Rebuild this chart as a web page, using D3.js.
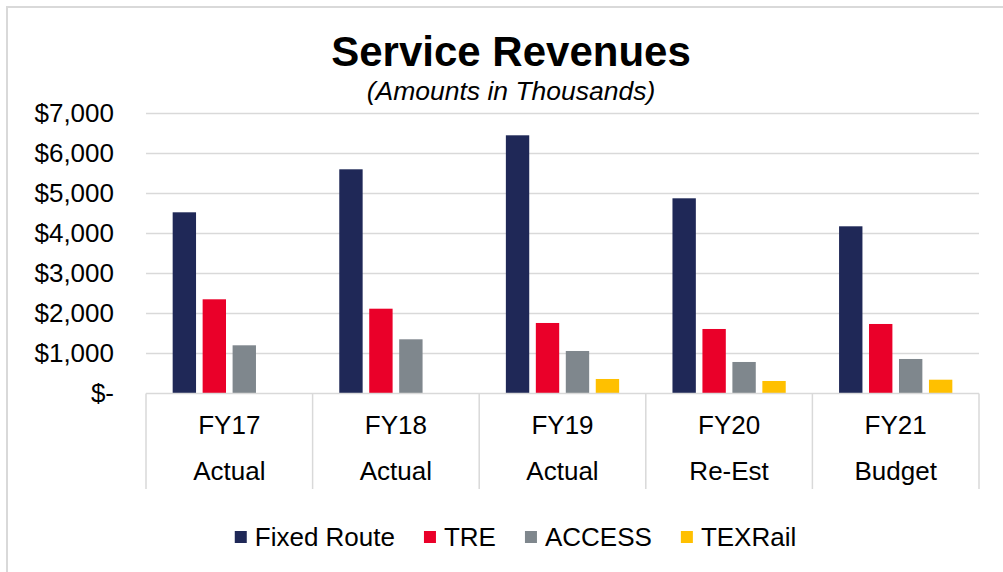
<!DOCTYPE html>
<html>
<head>
<meta charset="utf-8">
<script src="https://cdn.jsdelivr.net/npm/d3@7"></script>
<style>
  body { margin: 0; background: #fff; }
  text { font-family: "Liberation Sans", Arial, sans-serif; fill: #000; }
</style>
</head>
<body>
<script>
// data (thousands of dollars)
const years = ["FY17", "FY18", "FY19", "FY20", "FY21"];
const stages = ["Actual", "Actual", "Actual", "Re-Est", "Budget"];
const seriesNames = ["Fixed Route", "TRE", "ACCESS", "TEXRail"];
const fixedRoute = [4530, 5605, 6455, 4880, 4180];
const tre = [2355, 2120, 1763, 1613, 1738];
const access = [1205, 1355, 1063, 788, 863];
const texrail = [null, null, 363, 313, 345];
const yTicks = [0, 1000, 2000, 3000, 4000, 5000, 6000, 7000];
const colors = ["#1f2857", "#ea0029", "#7f878d", "#ffc000"];

ShowBarChart();

function ShowBarChart() {
    const width = 1003;
    const height = 572;
    const plot = {left: 146, right: 979, top: 113.5, bottom: 393.5};

    var svg = d3.select("body").append("svg")
        .attr('width', width)
        .attr('height', height);

    // outer chart border
    svg.append("rect")
        .attr("x", 7).attr("y", 7)
        .attr("width", 1040).attr("height", 600)
        .attr("fill", "none")
        .attr("stroke", "#d9d9d9")
        .attr("stroke-width", 2);

    var table = years.map((y, i) => ({
        year: y, stage: stages[i],
        values: [fixedRoute[i], tre[i], access[i], texrail[i]]
    }));

    var x0 = d3.scaleBand()
        .domain(years)
        .range([plot.left, plot.right])
        .padding(0);

    var x1 = d3.scaleBand()
        .domain(seriesNames)
        .range([0, x0.bandwidth()])
        .paddingInner(0.22)
        .paddingOuter(0.89);

    var yscale = d3.scaleLinear()
        .domain([0, 7000])
        .range([plot.bottom, plot.top]);

    // gridlines
    svg.append("g").selectAll("line")
        .data(yTicks.filter(d => d > 0))
        .enter()
        .append("line")
        .attr("x1", plot.left).attr("x2", plot.right)
        .attr("y1", d => yscale(d)).attr("y2", d => yscale(d))
        .attr("stroke", "#d9d9d9")
        .attr("stroke-width", 1.5);

    // y axis labels
    var yaxis = d3.axisLeft(yscale)
        .tickValues(yTicks)
        .tickSize(0)
        .tickPadding(0)
        .tickFormat(d => d === 0 ? "$-" : "$" + d3.format(",")(d));

    var gy = svg.append("g")
        .attr("transform", `translate(114, 0)`)
        .call(yaxis);
    gy.select(".domain").remove();
    gy.selectAll("text")
        .attr("font-size", 26)
        .attr("font-family", "Liberation Sans, Arial, sans-serif")
        .attr("fill", "#000");

    // bars
    var groups = svg.append("g").selectAll("g")
        .data(table)
        .enter()
        .append("g")
        .attr("transform", d => `translate(${x0(d.year)}, 0)`);

    groups.selectAll("rect")
        .data(d => d.values.map((v, i) => ({key: seriesNames[i], value: v, idx: i})).filter(e => e.value != null))
        .enter()
        .append("rect")
        .attr("x", d => x1(d.key))
        .attr("y", d => yscale(d.value))
        .attr("width", x1.bandwidth())
        .attr("height", d => yscale(0) - yscale(d.value))
        .attr("fill", d => colors[d.idx]);

    // category axis: baseline plus boxes
    var axisG = svg.append("g");
    axisG.append("line")
        .attr("x1", plot.left).attr("x2", plot.right)
        .attr("y1", plot.bottom).attr("y2", plot.bottom)
        .attr("stroke", "#d9d9d9").attr("stroke-width", 1.5);

    var bounds = years.map(y => x0(y)).concat([plot.right]);
    axisG.selectAll("line.sep")
        .data(bounds)
        .enter()
        .append("line")
        .attr("class", "sep")
        .attr("x1", d => d).attr("x2", d => d)
        .attr("y1", plot.bottom).attr("y2", 489)
        .attr("stroke", "#d9d9d9").attr("stroke-width", 1.5);

    axisG.selectAll("text.year")
        .data(table)
        .enter()
        .append("text")
        .attr("class", "year")
        .attr("x", d => x0(d.year) + x0.bandwidth() / 2)
        .attr("y", 434)
        .attr("text-anchor", "middle")
        .attr("font-size", 26)
        .text(d => d.year);

    axisG.selectAll("text.stage")
        .data(table)
        .enter()
        .append("text")
        .attr("class", "stage")
        .attr("x", d => x0(d.year) + x0.bandwidth() / 2)
        .attr("y", 480)
        .attr("text-anchor", "middle")
        .attr("font-size", 26)
        .text(d => d.stage);

    // titles
    svg.append("text")
        .attr("x", 511).attr("y", 66)
        .attr("text-anchor", "middle")
        .attr("font-size", 42)
        .attr("font-weight", "bold")
        .text("Service Revenues");

    svg.append("text")
        .attr("x", 511).attr("y", 100)
        .attr("text-anchor", "middle")
        .attr("font-size", 26.5)
        .attr("font-style", "italic")
        .text("(Amounts in Thousands)");

    // legend
    var legend = svg.append("g");
    var items = legend.selectAll("g")
        .data(seriesNames)
        .enter()
        .append("g");
    items.append("rect")
        .attr("width", 12).attr("height", 12)
        .attr("y", 531)
        .attr("fill", (d, i) => colors[i]);
    items.append("text")
        .attr("x", 20)
        .attr("y", 546)
        .attr("font-size", 26)
        .text(d => d);

    var pos = 0;
    var offsets = [];
    items.each(function(d) {
        var w = d3.select(this).select("text").node().getComputedTextLength();
        offsets.push(pos);
        pos += 20 + w + 29;
    });
    var total = pos - 29;
    var start = 515.5 - total / 2;
    items.attr("transform", (d, i) => `translate(${start + offsets[i]}, 0)`);
}
</script>
</body>
</html>
